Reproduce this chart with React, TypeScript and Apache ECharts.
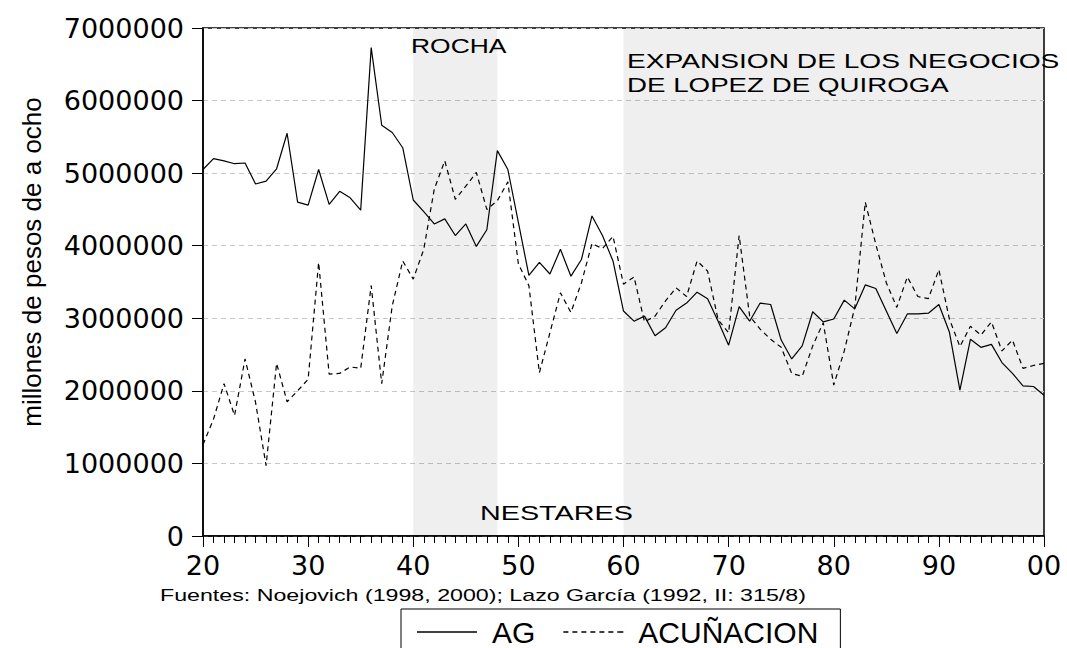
import React, { useEffect, useRef } from "react";
import * as echarts from "echarts";

const years: number[] = [];
for (let y = 1620; y <= 1700; y++) years.push(y);

const agValues = [
  5050000, 5200000, 5170000, 5130000, 5140000, 4850000, 4890000, 5060000, 5550000, 4600000,
  4560000, 5050000, 4570000, 4750000, 4660000, 4490000, 6730000, 5660000, 5560000, 5350000,
  4630000, 4470000, 4300000, 4370000, 4140000, 4300000, 3990000, 4220000, 5310000, 5050000,
  4320000, 3590000, 3770000, 3610000, 3950000, 3580000, 3810000, 4410000, 4140000, 3790000,
  3100000, 2960000, 3030000, 2760000, 2870000, 3110000, 3210000, 3360000, 3270000, 2960000,
  2630000, 3160000, 2960000, 3210000, 3190000, 2700000, 2440000, 2620000, 3090000, 2950000,
  2990000, 3250000, 3130000, 3460000, 3410000, 3100000, 2790000, 3060000, 3060000, 3070000,
  3190000, 2810000, 2010000, 2710000, 2600000, 2640000, 2390000, 2240000, 2070000, 2060000,
  1940000,
];

const acunacionValues = [
  1260000, 1610000, 2100000, 1660000, 2440000, 1840000, 970000, 2380000, 1850000, 2000000,
  2160000, 3770000, 2230000, 2240000, 2330000, 2310000, 3450000, 2100000, 3170000, 3790000,
  3540000, 3950000, 4780000, 5170000, 4640000, 4820000, 5010000, 4500000, 4620000, 4880000,
  3750000, 3450000, 2250000, 2800000, 3350000, 3080000, 3490000, 4030000, 3960000, 4130000,
  3470000, 3570000, 2950000, 3030000, 3240000, 3420000, 3300000, 3790000, 3650000, 2980000,
  2800000, 4140000, 3030000, 2850000, 2710000, 2600000, 2240000, 2200000, 2620000, 2940000,
  2080000, 2550000, 3150000, 4600000, 4020000, 3490000, 3150000, 3570000, 3300000, 3270000,
  3670000, 2990000, 2610000, 2890000, 2770000, 2950000, 2550000, 2700000, 2310000, 2350000,
  2380000,
];

const shadedPeriods: [number, number][] = [
  [1640, 1648],
  [1660, 1700],
];

const seriesNames = ["AG", "ACUÑACION"];
const yAxisTitle = "millones de pesos de a ocho";
const sourceNote = "Fuentes: Noejovich (1998, 2000); Lazo García (1992, II: 315/8)";

const ARIAL = '"Liberation Sans", Arial, sans-serif';
const WIDE = '"DejaVu Sans", sans-serif';

const SOLID_ICON = "path://M0,0h60v1.4h-60z";
const DASH_ICON =
  "path://M0,0h5v1.4h-5zM9,0h5v1.4h-5zM18,0h5v1.4h-5zM27,0h5v1.4h-5zM36,0h5v1.4h-5zM45,0h5v1.4h-5zM54,0h6v1.4h-6z";

function annot(text: string, x: number, y: number, size: number, sx: number) {
  return {
    type: "text",
    x,
    y,
    scaleX: sx,
    scaleY: 1,
    z: 100,
    style: {
      text,
      fontSize: size,
      fontFamily: ARIAL,
      fill: "#000",
      align: "left",
      verticalAlign: "middle",
      textAlign: "left",
      textVerticalAlign: "middle",
    },
  };
}

export default function App() {
  const ref = useRef<HTMLDivElement>(null);
  useEffect(() => {
    if (!ref.current) return;
    const chart = echarts.init(ref.current, undefined, { renderer: "svg" });
    const ag = years.map((y, i) => [y, agValues[i]]);
    const ac = years.map((y, i) => [y, acunacionValues[i]]);
    chart.setOption({
      animation: false,
      backgroundColor: "#fff",
      grid: {
        left: 203,
        right: 23,
        top: 28,
        bottom: 112,
        show: true,
        borderColor: "#000",
        borderWidth: 1.5,
        backgroundColor: "transparent",
      },
      legend: {
        left: 401,
        top: 609,
        orient: "horizontal",
        padding: [8, 22, 8, 16],
        itemWidth: 60,
        itemHeight: 1.4,
        itemGap: 28,
        borderColor: "#000",
        borderWidth: 1,
        backgroundColor: "#fff",
        textStyle: {
          fontSize: 30,
          lineHeight: 28,
          fontFamily: ARIAL,
          color: "#000",
          padding: [0, 0, 0, 10],
        },
        data: [
          { name: seriesNames[0], icon: SOLID_ICON },
          { name: seriesNames[1], icon: DASH_ICON },
        ],
      },
      xAxis: {
        type: "value",
        min: 1620,
        max: 1700,
        interval: 10,
        axisLine: { show: true, lineStyle: { color: "#000", width: 1.5 } },
        axisTick: { show: true, length: 11, inside: false, lineStyle: { color: "#000" } },
        minorTick: { show: true, splitNumber: 10, length: 7, lineStyle: { color: "#000" } },
        splitLine: { show: false },
        axisLabel: {
          margin: 16,
          fontSize: 27,
          fontFamily: WIDE,
          color: "#000",
          formatter: (v: number) => String(v % 100).padStart(2, "0"),
        },
      },
      yAxis: {
        type: "value",
        min: 0,
        max: 7000000,
        interval: 1000000,
        name: yAxisTitle,
        nameLocation: "middle",
        nameGap: 158,
        nameTextStyle: {
          fontSize: 26,
          fontFamily: ARIAL,
          color: "#000",
          padding: [0, 0, 0, 40],
        },
        axisLine: { show: true, lineStyle: { color: "#000", width: 1.5 } },
        axisTick: { show: true, length: 11, inside: false, lineStyle: { color: "#000" } },
        splitLine: { show: true, lineStyle: { color: "#c8c8c8", type: [5, 4], width: 1 } },
        axisLabel: {
          margin: 19,
          fontSize: 27,
          fontFamily: WIDE,
          color: "#000",
          formatter: (v: number) => String(Math.round(v)),
        },
      },
      series: [
        {
          name: seriesNames[0],
          type: "line",
          data: ag,
          symbol: "none",
          showSymbol: false,
          lineStyle: { color: "#000", width: 1.2, type: "solid" },
          itemStyle: { color: "#000" },
          z: 3,
          markArea: {
            silent: true,
            itemStyle: { color: "rgba(0,0,0,0.063)" },
            data: shadedPeriods.map(([a, b]) => [{ xAxis: a }, { xAxis: b }]),
          },
        },
        {
          name: seriesNames[1],
          type: "line",
          data: ac,
          symbol: "none",
          showSymbol: false,
          lineStyle: { color: "#000", width: 1.2, type: [5, 4] },
          itemStyle: { color: "#000" },
          z: 3,
        },
      ],
      graphic: [
        annot("ROCHA", 411, 46, 21, 1.26),
        annot("NESTARES", 480, 512.5, 21, 1.37),
        annot("EXPANSION DE LOS NEGOCIOS", 627, 61, 21, 1.34),
        annot("DE LOPEZ DE QUIROGA", 627, 85, 21, 1.32),
        annot(sourceNote, 160, 595, 17, 1.365),
      ],
    });
    return () => chart.dispose();
  }, []);
  return (
    <div
      ref={ref}
      style={{ position: "fixed", left: 0, top: 0, width: 1067, height: 648 }}
    />
  );
}
